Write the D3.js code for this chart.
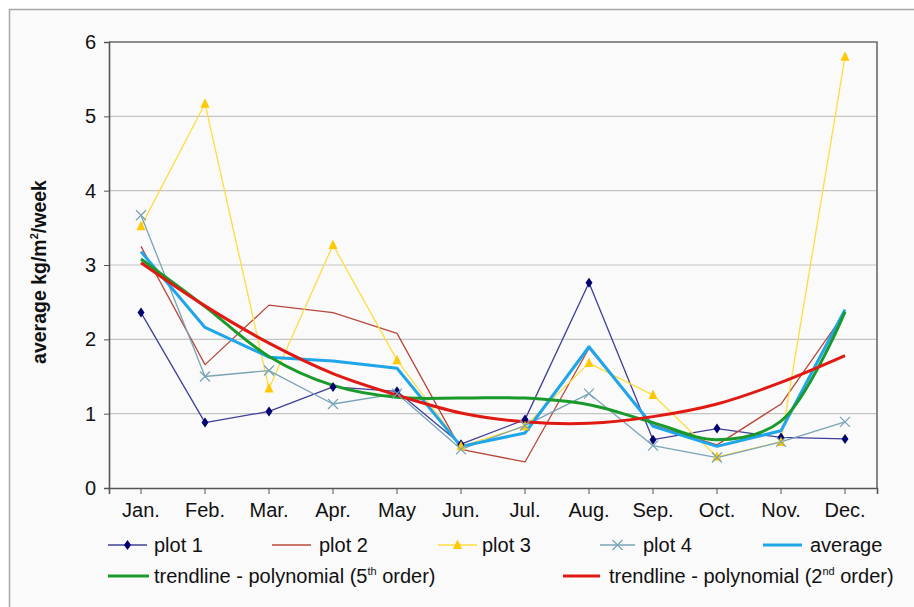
<!DOCTYPE html>
<html>
<head>
<meta charset="utf-8">
<script src="https://cdn.jsdelivr.net/npm/d3@7/dist/d3.min.js"></script>
<style>
  html, body { margin: 0; padding: 0; background: #ffffff; }
  svg { display: block; font-family: "Liberation Sans", Arial, sans-serif; }
</style>
</head>
<body>
<svg id="chart" width="914" height="607"></svg>
<script>
// Months along the x axis
const months = ["Jan.", "Feb.", "Mar.", "Apr.", "May", "Jun.", "Jul.", "Aug.", "Sep.", "Oct.", "Nov.", "Dec."];
const yTicks = [0, 1, 2, 3, 4, 5, 6];

// Weekly averages per plot (kg/m²/week)
const plot1 = [2.36, 0.88, 1.03, 1.36, 1.30, 0.59, 0.92, 2.76, 0.65, 0.80, 0.68, 0.66];
const plot2 = [3.25, 1.66, 2.46, 2.36, 2.08, 0.52, 0.35, 1.88, 0.85, 0.58, 1.13, 2.36];
const plot3 = [3.52, 5.17, 1.34, 3.27, 1.72, 0.56, 0.83, 1.68, 1.25, 0.42, 0.62, 5.80];
const plot4 = [3.67, 1.50, 1.58, 1.13, 1.27, 0.52, 0.84, 1.27, 0.57, 0.41, 0.62, 0.89];
const average = [3.18, 2.16, 1.76, 1.71, 1.61, 0.56, 0.74, 1.90, 0.83, 0.56, 0.77, 2.40];
const trend5 = [3.08, 2.44, 1.77, 1.38, 1.22, 1.21, 1.21, 1.12, 0.88, 0.65, 0.90, 2.37];
const trend2 = [3.03, 2.45, 1.95, 1.54, 1.25, 1.01, 0.89, 0.87, 0.96, 1.13, 1.42, 1.78];

const svg = d3.select("#chart");
const W = 914, H = 607;
const plot = { left: 109, top: 42, right: 877, bottom: 488 };
const FS = 20;

// outer panel
svg.append("rect").attr("x", 0).attr("y", 0).attr("width", W).attr("height", H).attr("fill", "#ffffff");
svg.append("rect").attr("x", 9.5).attr("y", 9.5).attr("width", W).attr("height", H)
  .attr("fill", "#fafafa").attr("stroke", "#a8a8a8").attr("stroke-width", 1.5);

const x = d3.scaleBand().domain(months).range([plot.left, plot.right]).paddingInner(0).paddingOuter(0);
const xc = m => x(m) + x.bandwidth() / 2;
const y = d3.scaleLinear().domain([0, 6]).range([plot.bottom, plot.top]);

// horizontal gridlines
svg.append("g").selectAll("line").data(yTicks.filter(t => t > 0 && t < 6)).join("line")
  .attr("x1", plot.left).attr("x2", plot.right)
  .attr("y1", d => y(d)).attr("y2", d => y(d))
  .attr("stroke", "#c4c4c4").attr("stroke-width", 1.2);

// plot frame top / right
svg.append("path")
  .attr("d", `M${plot.left},${plot.top}H${plot.right}V${plot.bottom}`)
  .attr("fill", "none").attr("stroke", "#6a6a6a").attr("stroke-width", 1.6);

// y axis
const yAxis = svg.append("g").attr("transform", `translate(${plot.left},0)`)
  .call(d3.axisLeft(y).tickValues(yTicks).tickSize(5).tickPadding(8).tickFormat(d3.format("d")));
yAxis.select(".domain").attr("stroke", "#555").attr("stroke-width", 1.6);
yAxis.selectAll(".tick line").attr("stroke", "#555");
yAxis.selectAll("text").attr("font-size", FS).attr("fill", "#111").attr("font-family", "Liberation Sans, Arial, sans-serif");

// x axis
const xAxis = svg.append("g").attr("transform", `translate(0,${plot.bottom})`)
  .call(d3.axisBottom(x).tickSize(6).tickPadding(9));
xAxis.select(".domain").attr("stroke", "#555").attr("stroke-width", 1.6);
xAxis.selectAll(".tick line").attr("stroke", "#555");
xAxis.selectAll("text").attr("font-size", FS).attr("fill", "#111").attr("font-family", "Liberation Sans, Arial, sans-serif");

// y axis title
const yt = svg.append("text")
  .attr("transform", `translate(46,272) rotate(-90)`)
  .attr("text-anchor", "middle")
  .attr("font-size", 19.5).attr("font-weight", "bold").attr("fill", "#111");
yt.append("tspan").text("average kg/m");
yt.append("tspan").attr("font-size", 11).attr("dy", -8).text("2");
yt.append("tspan").attr("dy", 8).text("/week");

const lineGen = curve => d3.line().x((d, i) => xc(months[i])).y(d => y(d)).curve(curve);

const series = [
  { name: "plot 1", data: plot1, color: "#3f3f99", width: 1.3, marker: "diamond", mcolor: "#000070" },
  { name: "plot 2", data: plot2, color: "#b8483c", width: 1.3, marker: null },
  { name: "plot 3", data: plot3, color: "#ffdc40", width: 1.3, marker: "triangle", mcolor: "#ffc800" },
  { name: "plot 4", data: plot4, color: "#79a4b6", width: 1.3, marker: "cross", mcolor: "#79a4b6" },
  { name: "average", data: average, color: "#1ea5ea", width: 3, marker: null },
];
const trends = [
  { name: "trend5", data: trend5, color: "#1a9a2a", width: 3 },
  { name: "trend2", data: trend2, color: "#e01a12", width: 3 },
];

const gLines = svg.append("g");
series.forEach(s => {
  gLines.append("path").datum(s.data)
    .attr("d", lineGen(d3.curveLinear))
    .attr("fill", "none").attr("stroke", s.color).attr("stroke-width", s.width)
    .attr("stroke-linejoin", "round");
});
trends.forEach(s => {
  gLines.append("path").datum(s.data)
    .attr("d", lineGen(d3.curveCatmullRom.alpha(0.5)))
    .attr("fill", "none").attr("stroke", s.color).attr("stroke-width", s.width);
});

function drawMarker(g, type, cx, cy, color) {
  if (type === "diamond") {
    g.append("path").attr("d", `M${cx},${cy - 5}L${cx + 3.5},${cy}L${cx},${cy + 5}L${cx - 3.5},${cy}Z`)
      .attr("fill", color);
  } else if (type === "triangle") {
    g.append("path").attr("d", `M${cx},${cy - 5.5}L${cx + 4.5},${cy + 4}L${cx - 4.5},${cy + 4}Z`)
      .attr("fill", color);
  } else if (type === "cross") {
    g.append("path").attr("d", `M${cx - 5},${cy - 5}L${cx + 5},${cy + 5}M${cx + 5},${cy - 5}L${cx - 5},${cy + 5}`)
      .attr("stroke", color).attr("stroke-width", 1.3);
  }
}
const gMarks = svg.append("g");
series.filter(s => s.marker).forEach(s => {
  s.data.forEach((v, i) => drawMarker(gMarks, s.marker, xc(months[i]), y(v), s.mcolor));
});

// legend
const legend = svg.append("g").attr("font-size", FS).attr("fill", "#111");
const row1 = 545, row2 = 576;
const legendItems = [
  { s: series[0], x1: 108, x2: 147, tx: 154, y: row1 },
  { s: series[1], x1: 272, x2: 311, tx: 319, y: row1 },
  { s: series[2], x1: 438, x2: 477, tx: 482, y: row1 },
  { s: series[3], x1: 600, x2: 635, tx: 643, y: row1 },
  { s: series[4], x1: 763, x2: 802, tx: 810, y: row1 },
];
legendItems.forEach(it => {
  legend.append("line").attr("x1", it.x1).attr("x2", it.x2).attr("y1", it.y).attr("y2", it.y)
    .attr("stroke", it.s.color).attr("stroke-width", it.s.width === 3 ? 3 : 1.5);
  if (it.s.marker) drawMarker(legend, it.s.marker, (it.x1 + it.x2) / 2, it.y, it.s.mcolor);
  legend.append("text").attr("x", it.tx).attr("y", it.y + 7).text(it.s.name);
});

function trendLegend(s, x1, x2, tx, yy, ord, sup) {
  legend.append("line").attr("x1", x1).attr("x2", x2).attr("y1", yy).attr("y2", yy)
    .attr("stroke", s.color).attr("stroke-width", 3);
  const t = legend.append("text").attr("x", tx).attr("y", yy + 7);
  t.append("tspan").text(`trendline - polynomial (${ord}`);
  t.append("tspan").attr("font-size", 11).attr("dy", -8).text(sup);
  t.append("tspan").attr("dy", 8).text(" order)");
}
trendLegend(trends[0], 108, 149, 154, row2, "5", "th");
trendLegend(trends[1], 563, 600, 609, row2, "2", "nd");
</script>
</body>
</html>
